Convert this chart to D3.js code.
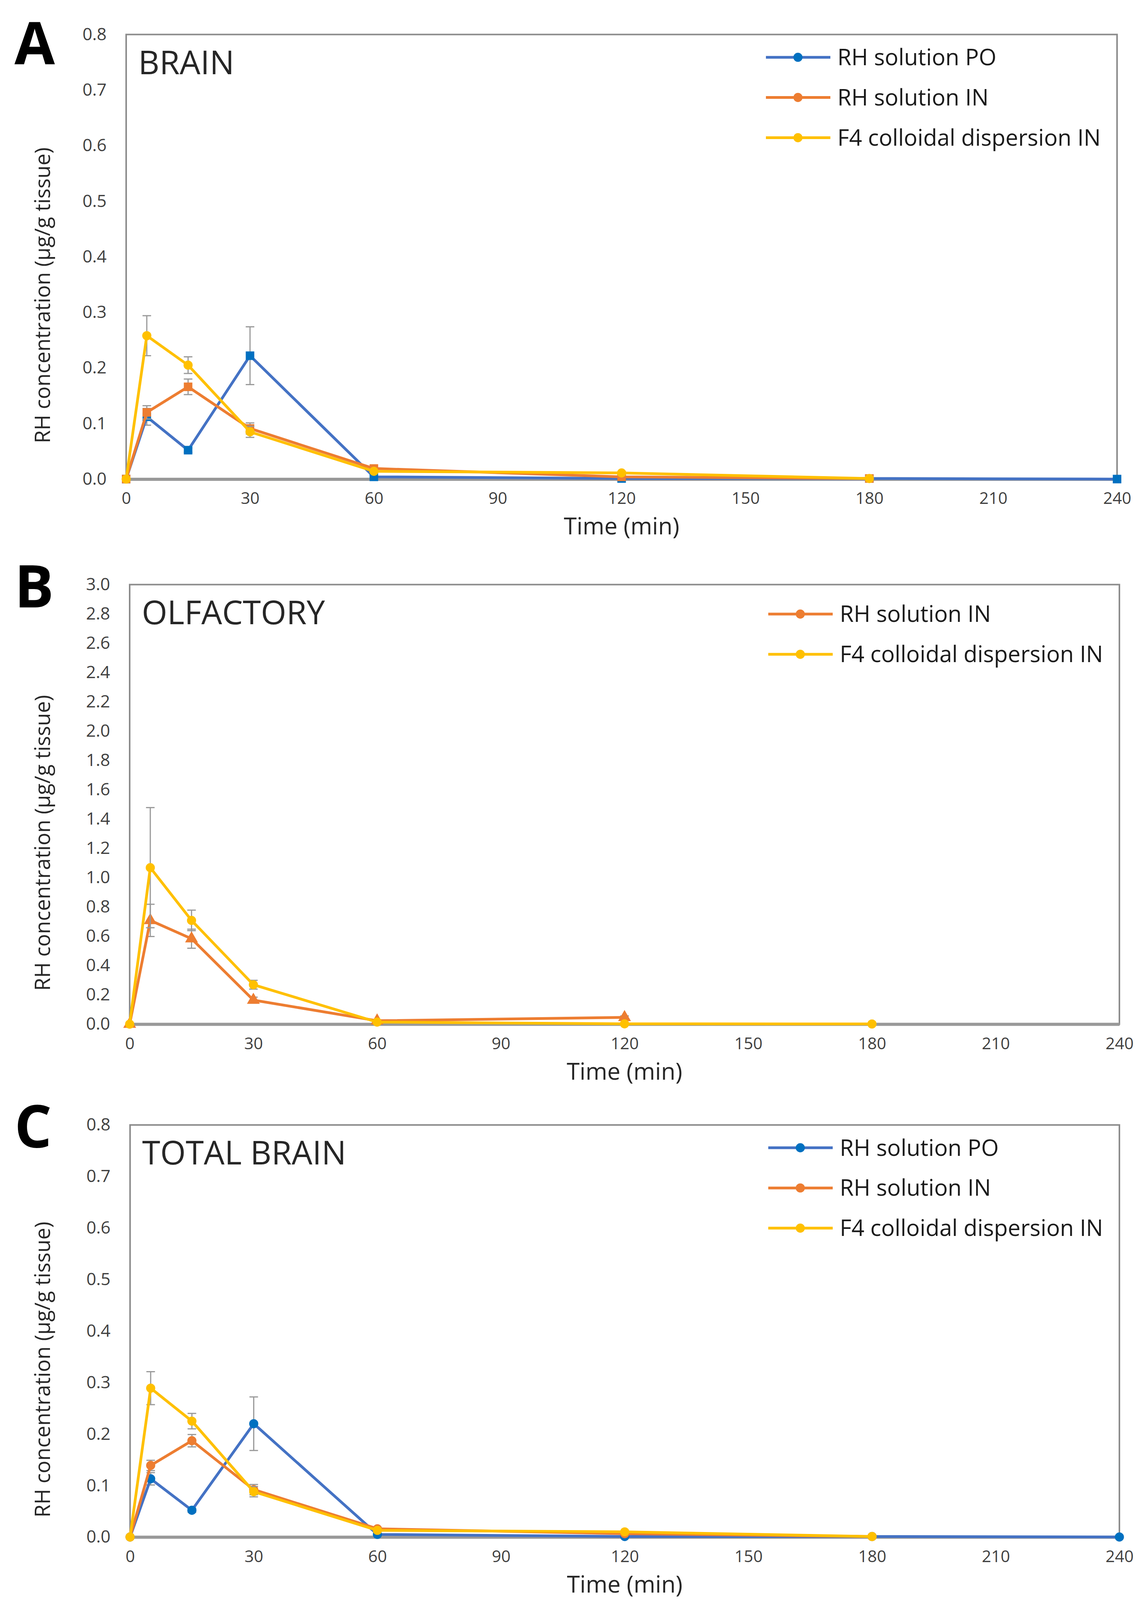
<!DOCTYPE html>
<html lang="en">
  <head>
    <meta charset="UTF-8" />
    <title>RH concentration</title>
    <style>
      html, body { margin: 0; padding: 0; background: #fff; overflow: hidden; }
      svg { display: block; font-family: "Open Sans", sans-serif; }
      .tick text { fill: #404040; }
    </style>
  </head>
  <body>
    <svg></svg>
    <script src="https://cdnjs.cloudflare.com/ajax/libs/d3/7.8.5/d3.min.js"></script>
    <script>
      // sampling times (min)
      const times = [0, 5, 15, 30, 60, 120, 180, 240];
      const xTicks = [0, 30, 60, 90, 120, 150, 180, 210, 240];

      // A - brain
      const brainPO = [0, 0.112, 0.052, 0.222, 0.004, 0.001, 0.001, 0.0];
      const brainPOErr = [0, 0.015, 0.004, 0.052, 0.002, 0.001, 0, 0];
      const brainIN = [0, 0.12, 0.166, 0.091, 0.019, 0.004, 0.001];
      const brainINErr = [0, 0.012, 0.014, 0.01, 0.003, 0.001, 0];
      const brainF4 = [0, 0.258, 0.205, 0.085, 0.014, 0.011, 0.001];
      const brainF4Err = [0, 0.036, 0.015, 0.01, 0.002, 0.002, 0];

      // B - olfactory
      const olfIN = [0, 0.708, 0.583, 0.164, 0.023, 0.046];
      const olfINErr = [0, 0.11, 0.065, 0.02, 0.005, 0.01];
      const olfF4 = [0, 1.068, 0.708, 0.269, 0.014, 0.002, 0.001];
      const olfF4Err = [0, 0.41, 0.07, 0.03, 0.004, 0.001, 0];

      // C - total brain
      const totPO = [0, 0.113, 0.052, 0.22, 0.005, 0.001, 0.001, 0.0];
      const totPOErr = [0, 0.012, 0.004, 0.052, 0.002, 0, 0, 0];
      const totIN = [0, 0.139, 0.187, 0.092, 0.016, 0.0065, 0.001];
      const totINErr = [0, 0.01, 0.012, 0.01, 0.003, 0.001, 0];
      const totF4 = [0, 0.289, 0.225, 0.088, 0.013, 0.01, 0.001];
      const totF4Err = [0, 0.032, 0.015, 0.01, 0.002, 0.001, 0];

      const labelPO = "RH solution PO";
      const labelIN = "RH solution IN";
      const labelF4 = "F4 colloidal dispersion IN";

      const blue = { line: "#4472C4", mark: "#0070C0" };
      const orange = { line: "#ED7D31", mark: "#ED7D31" };
      const yellow = { line: "#FFC000", mark: "#FFC000" };

      // positions are measured on a 2929 x 4776 sheet, then fitted to the real window
      const W = window.innerWidth || 2929;
      const H = window.innerHeight || 4776;
      const kx = W / 2929, ky = H / 4776;
      const X = function (v) { return v * kx; };
      const Y = function (v) { return v * ky; };

      const svg = d3.select("svg").attr("width", W).attr("height", H);

      function serie(name, vals, errs, col, shape) {
        return {
          name: name,
          col: col,
          shape: shape,
          pts: vals.map(function (v, i) {
            return { t: times[i], v: v, e: errs[i] };
          }),
        };
      }

      const panels = [
        {
          letter: "A", title: "BRAIN",
          box: { l: 323, r: 2860, t: 103, b: 1430 },
          yMax: 0.8, yStep: 0.1, legendTop: 68,
          series: [
            serie(labelPO, brainPO, brainPOErr, blue, "square"),
            serie(labelIN, brainIN, brainINErr, orange, "square"),
            serie(labelF4, brainF4, brainF4Err, yellow, "circle"),
          ],
        },
        {
          letter: "B", title: "OLFACTORY",
          box: { l: 332, r: 2866, t: 1745, b: 3057 },
          yMax: 3.0, yStep: 0.2, legendTop: 88,
          series: [
            serie(labelIN, olfIN, olfINErr, orange, "triangle"),
            serie(labelF4, olfF4, olfF4Err, yellow, "circle"),
          ],
        },
        {
          letter: "C", title: "TOTAL BRAIN",
          box: { l: 333, r: 2866, t: 3358, b: 4588 },
          yMax: 0.8, yStep: 0.1, legendTop: 68,
          series: [
            serie(labelPO, totPO, totPOErr, blue, "circle"),
            serie(labelIN, totIN, totINErr, orange, "circle"),
            serie(labelF4, totF4, totF4Err, yellow, "circle"),
          ],
        },
      ];

      const symbols = {
        square: d3.symbol().type(d3.symbolSquare).size(480),
        circle: d3.symbol().type(d3.symbolCircle).size(430),
        triangle: d3.symbol().type(d3.symbolTriangle).size(470),
      };

      panels.forEach(function (p) {
        const b = {
          l: X(p.box.l), r: X(p.box.r), t: Y(p.box.t), b: Y(p.box.b),
        };
        const x = d3.scaleLinear().domain([0, 240]).range([b.l, b.r]);
        const y = d3.scaleLinear().domain([0, p.yMax]).range([b.b, b.t]);
        const g = svg.append("g");

        // plot frame
        g.append("rect")
          .attr("x", b.l).attr("y", b.t)
          .attr("width", b.r - b.l).attr("height", b.b - b.t)
          .attr("fill", "none").attr("stroke", "#8c8c8c").attr("stroke-width", 4);

        // y axis labels
        const yTicks = d3.range(0, p.yMax + p.yStep / 2, p.yStep);
        const yAxis = d3.axisLeft(y).tickValues(yTicks).tickSize(0)
          .tickPadding(50).tickFormat(d3.format(".1f"));
        g.append("g").attr("transform", "translate(" + b.l + ",0)").call(yAxis)
          .call(function (a) { a.select(".domain").remove(); })
          .selectAll("text").attr("font-size", 44).attr("font-family", "Open Sans");

        // x axis
        const xAxis = d3.axisBottom(x).tickValues(xTicks).tickSize(0).tickPadding(34);
        g.append("g").attr("transform", "translate(0," + b.b + ")").call(xAxis)
          .call(function (a) {
            a.select(".domain").attr("stroke", "#999").attr("stroke-width", 8);
          })
          .selectAll("text").attr("font-size", 42).attr("font-family", "Open Sans");

        g.append("text")
          .attr("x", (b.l + b.r) / 2).attr("y", b.b + 142)
          .attr("text-anchor", "middle").attr("font-size", 60).attr("fill", "#262626")
          .text("Time (min)");

        const cy = (b.t + b.b) / 2 + Y(115);
        g.append("text")
          .attr("transform", "translate(" + X(128) + "," + cy + ") rotate(-90)")
          .attr("text-anchor", "middle").attr("font-size", 63 * ky).attr("fill", "#262626")
          .text("RH concentration (µg/g tissue)");

        // panel letter and title
        g.append("text")
          .attr("x", X(37)).attr("y", Math.max(b.t + 58, 165))
          .attr("font-size", 150).attr("font-weight", "bold").attr("fill", "#000")
          .text(p.letter);
        g.append("text")
          .attr("x", b.l + X(31)).attr("y", b.t + Y(118))
          .attr("font-size", 84).attr("fill", "#262626")
          .text(p.title);

        const line = d3.line().x(function (d) { return x(d.t); }).y(function (d) { return y(d.v); });

        p.series.forEach(function (s) {
          const sg = g.append("g");
          // error bars
          const eb = sg.selectAll(".err").data(s.pts.filter(function (d) { return d.e > 0; }))
            .enter().append("g").attr("stroke", "#999").attr("stroke-width", 3);
          eb.append("line")
            .attr("x1", function (d) { return x(d.t); }).attr("x2", function (d) { return x(d.t); })
            .attr("y1", function (d) { return y(d.v + d.e); }).attr("y2", function (d) { return y(d.v - d.e); });
          eb.append("line")
            .attr("x1", function (d) { return x(d.t) - 11; }).attr("x2", function (d) { return x(d.t) + 11; })
            .attr("y1", function (d) { return y(d.v + d.e); }).attr("y2", function (d) { return y(d.v + d.e); });
          eb.append("line")
            .attr("x1", function (d) { return x(d.t) - 11; }).attr("x2", function (d) { return x(d.t) + 11; })
            .attr("y1", function (d) { return y(d.v - d.e); }).attr("y2", function (d) { return y(d.v - d.e); });

          sg.append("path").datum(s.pts).attr("d", line)
            .attr("fill", "none").attr("stroke", s.col.line).attr("stroke-width", 7)
            .attr("stroke-linejoin", "round");

          sg.selectAll(".mk").data(s.pts).enter().append("path")
            .attr("d", symbols[s.shape])
            .attr("transform", function (d) { return "translate(" + x(d.t) + "," + y(d.v) + ")"; })
            .attr("fill", s.col.mark);
        });

        // legend
        const lg = g.append("g")
          .attr("transform", "translate(" + (b.r - X(899)) + "," + (b.t + Y(p.legendTop)) + ")");
        p.series.forEach(function (s, i) {
          const row = lg.append("g").attr("transform", "translate(0," + i * Y(120) + ")");
          row.append("line").attr("x1", 0).attr("x2", X(165)).attr("y1", 0).attr("y2", 0)
            .attr("stroke", s.col.line).attr("stroke-width", 7);
          row.append("path").attr("d", symbols.circle).attr("transform", "translate(" + X(82) + ",0)")
            .attr("fill", s.col.mark);
          row.append("text").attr("x", X(183)).attr("y", 0).attr("dy", "0.35em")
            .attr("font-size", 58).attr("fill", "#1a1a1a").text(s.name);
        });
      });
    </script>
  </body>
</html>
